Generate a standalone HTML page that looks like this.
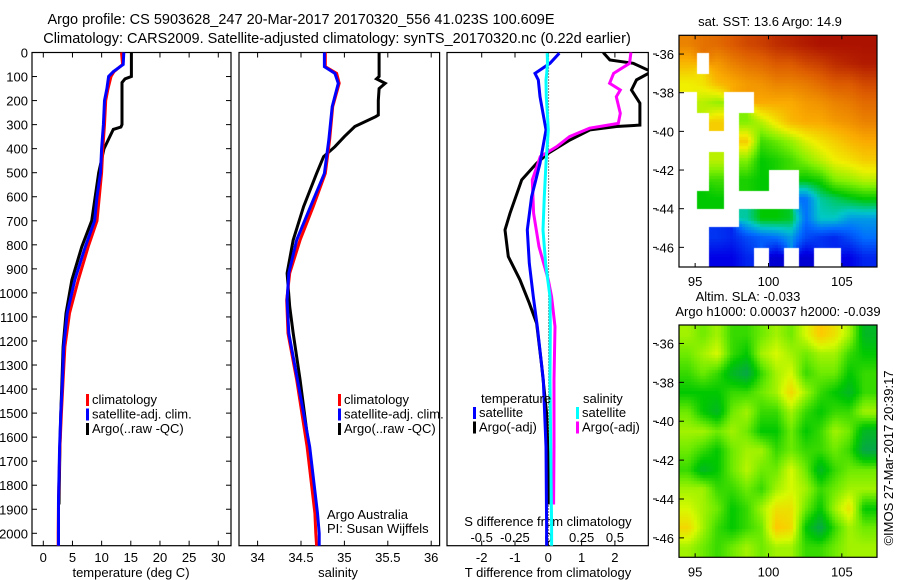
<!DOCTYPE html>
<html><head><meta charset="utf-8">
<style>
body{margin:0;background:#fff;width:900px;height:580px;overflow:hidden;font-family:"Liberation Sans",sans-serif}
#wrap{position:relative;width:900px;height:580px}
svg{position:absolute;left:0;top:0}
canvas{position:absolute}
</style></head><body>
<div id="wrap">
<canvas id="sst" width="198" height="232" style="left:679px;top:35px"></canvas>
<canvas id="sla" width="198" height="232" style="left:679px;top:325px"></canvas>
<svg id="fig" width="900" height="580"></svg>
</div>
<script>
// ---------- data ----------
const tDepth=[0,50,80,100,150,200,300,400,500,600,700,808,946,1085,1224,1362,1501,1640,1862,2000,2052];
const tClim=[13.4,13.6,12.1,11.6,11.1,10.7,10.5,10.2,10.0,9.6,9.2,7.7,6.0,4.5,3.7,3.4,3.1,2.85,2.6,2.55,2.55];
const tSat=[13.8,13.7,12.0,11.2,10.9,10.5,10.3,10.0,9.8,9.2,8.8,7.2,5.4,4.1,3.5,3.3,3.0,2.8,2.6,2.6,2.6];
const argoDepth=[0,100,110,125,300,310,320,350,400,500,600,700,808,946,1085,1224,1362,1501,1640,1880];
const tArgo=[15.1,15.1,14.0,13.5,13.5,13.3,12.0,11.4,10.4,9.5,8.9,8.3,6.6,4.9,3.9,3.4,3.2,3.0,2.85,2.7];
const sDepth=[0,59,87,128,225,364,503,641,780,918,1030,1168,1362,1640,1917,2000,2052];
const sClim=[34.78,34.78,34.91,34.94,34.865,34.83,34.78,34.64,34.49,34.37,34.335,34.35,34.45,34.57,34.66,34.67,34.68];
const sSat=[34.77,34.77,34.89,34.93,34.86,34.82,34.77,34.61,34.45,34.36,34.34,34.36,34.46,34.60,34.69,34.71,34.71];
const sArgoDepth=[0,100,110,128,150,200,260,267,308,350,392,433,503,641,780,918,1057,1168,1362,1640,1880];
const sArgo=[35.40,35.40,35.37,35.47,35.40,35.39,35.39,35.36,35.12,35.0,34.89,34.76,34.68,34.53,34.41,34.34,34.37,34.41,34.49,34.59,34.67];
const dDepth=[3,45,87,114,184,322,461,600,738,877,1016,1140,1362,1640,1972,2052];
const dTsat=[0.33,0.05,-0.4,-0.3,-0.25,-0.07,-0.25,-0.5,-0.63,-0.57,-0.45,-0.33,-0.15,-0.07,-0.05,-0.05];
const dSsat=[-0.008,-0.006,-0.012,-0.017,-0.015,0,-0.017,-0.03,-0.04,-0.02,0.013,0.015,0.013,0.018,0.025,0.025];
const dArgoDepth=[0,31,45,80,114,156,211,267,302,308,322,364,419,461,530,669,738,849,946,1043,1126,1300,1500,1700,1880];
const dTargo=[1.65,1.85,2.55,3.1,2.65,2.5,2.75,2.75,2.75,2.05,1.25,0.65,0,-0.35,-0.8,-1.15,-1.3,-1.2,-0.85,-0.57,-0.35,-0.2,-0.05,0,0];
const dSargoDepth=[0,45,87,128,156,184,253,295,315,350,392,433,530,669,808,946,1016,1140,1362,1640,1880];
const dSargo=[0.62,0.61,0.49,0.46,0.54,0.51,0.54,0.525,0.31,0.16,0.063,-0.06,-0.12,-0.11,-0.07,0,0.025,0.05,0.043,0.043,0.04];
const depthTicks=[0,100,200,300,400,500,600,700,800,900,1000,1100,1200,1300,1400,1500,1600,1700,1800,1900,2000];
const tTicks=[0,5,10,15,20,25,30];
const sTicks=[34,34.5,35,35.5,36];
const dTTicks=[-2,-1,0,1,2];
const dSTicks=[-0.5,-0.25,0,0.25,0.5];
const lonTicks=[95,100,105];
const latTicks=[-36,-38,-40,-42,-44,-46];
// SST grid (normalized colour value), rows lat -35.5..-46.5, cols lon 94.5..106.5; null = no data
const sstGrid=[
[.85,.87,.88,.9,.92,.93,.95,.96,.97,.98,.98,.98,.98],
[.78,null,.82,.85,.87,.88,.9,.9,.92,.93,.95,.96,.97],
[.7,.72,.78,.8,.82,.83,.85,.85,.86,.88,.9,.9,.92],
[null,.65,.62,null,null,.8,.8,.8,.82,.83,.85,.86,.88],
[null,null,.75,null,.6,.65,.72,.78,.8,.8,.82,.83,.85],
[null,null,null,null,.75,.55,.58,.62,.68,.72,.75,.78,.8],
[null,null,.65,null,.6,.5,.52,.55,.6,.65,.7,.72,.75],
[null,null,.55,null,.52,.5,null,null,.5,.52,.6,.62,.65],
[null,.5,.5,null,null,null,null,null,.3,.42,.45,.48,.5],
[null,null,null,null,.42,.5,.5,.48,.3,.4,.4,.35,.35],
[null,null,.22,.2,.25,.28,.3,.35,.25,.22,.2,.25,.3],
[null,null,.15,.15,.2,null,.12,null,.12,null,null,.15,.2]];
const slaGrid=[
[.6,.55,.6,.5,.5,.55,.6,.55,.65,.75,.7,.6,.4],
[.55,.6,.65,.5,.45,.6,.65,.6,.55,.6,.6,.5,.45],
[.5,.55,.5,.4,.35,.5,.6,.65,.5,.55,.55,.45,.5],
[.45,.45,.45,.5,.5,.55,.6,.72,.6,.5,.45,.4,.5],
[.55,.45,.4,.55,.6,.5,.5,.6,.5,.45,.5,.5,.6],
[.6,.6,.55,.6,.55,.45,.45,.55,.45,.5,.6,.55,.4],
[.55,.5,.45,.55,.6,.6,.5,.55,.5,.5,.55,.5,.35],
[.5,.4,.45,.55,.62,.55,.55,.65,.55,.4,.5,.55,.55],
[.6,.6,.5,.5,.55,.5,.6,.65,.6,.5,.55,.6,.6],
[.65,.6,.55,.45,.5,.6,.7,.7,.55,.45,.6,.7,.45],
[.72,.6,.5,.45,.5,.55,.75,.72,.45,.35,.5,.6,.55],
[.6,.55,.5,.55,.6,.55,.6,.6,.5,.5,.55,.6,.6]];

// ---------- scales ----------
const NS="http://www.w3.org/2000/svg";
const svg=document.getElementById('fig');
const TOP=52.5,BOT=545.7;
const yD=d=>TOP+d*0.2404;
const xT=t=>43.3+t*5.833;
const xS=s=>257.6+(s-34)*86.8;
const xDT=t=>548.3+t*33.3;
const xDS=s=>548.3+s*133.3;
function el(tag,attrs,parent){const e=document.createElementNS(NS,tag);for(const k in attrs)e.setAttribute(k,attrs[k]);(parent||svg).appendChild(e);return e;}
function txt(x,y,s,anchor,size,parent){const e=el('text',{x:x,y:y,'font-size':size||13,'text-anchor':anchor||'start',fill:'#000','font-family':'Liberation Sans, sans-serif'},parent);e.textContent=s;return e;}
function line(xs,ds,fx,color,name,w){
  const g=el('g',{});
  
  
  const clip=name.indexOf('diff')>=0?'url(#c3)':'';
  el('polyline',{points:xs.map((v,i)=>fx(v).toFixed(1)+','+yD(ds[i]).toFixed(1)).join(' '),fill:'none',stroke:color,'stroke-width':w||3,'clip-path':clip},g);
  return g;
}
const defs=el('defs',{});
const cp=el('clipPath',{id:'c3'},defs);el('rect',{x:447,y:52,width:201,height:494},cp);

const t1=txt(301,24,'Argo profile: CS 5903628_247 20-Mar-2017 20170320_556 41.023S 100.609E','middle',14.5);

const t2=txt(337,43,'Climatology: CARS2009. Satellite-adjusted climatology: synTS_20170320.nc (0.22d earlier)','middle',14.5);


function panel(x0,x1,name){
  const r=el('rect',{x:x0,y:TOP,width:x1-x0,height:BOT-TOP,fill:'none',stroke:'#000','stroke-width':1.2});
  
}
panel(32,231,'temperature-panel');panel(239,439.6,'salinity-panel');panel(447,648.3,'difference-panel');

depthTicks.forEach(d=>{
  const y=yD(d);
  el('line',{x1:32,x2:37,y1:y,y2:y,stroke:'#000'});
  el('line',{x1:226,x2:231,y1:y,y2:y,stroke:'#000'});
  const l=txt(28,y+5,String(d),'end',13);
  
});
function xticks(vals,fx,ylab){
  vals.forEach(v=>{const x=fx(v);
    el('line',{x1:x,x2:x,y1:TOP,y2:TOP+5,stroke:'#000'});
    el('line',{x1:x,x2:x,y1:BOT,y2:BOT-5,stroke:'#000'});
    const l=txt(x,ylab,String(v),'middle',13);
    
  });
}
xticks(tTicks,xT,562);
xticks(sTicks,xS,562);
xticks(dTTicks,xDT,562);
dSTicks.forEach(v=>{const l=txt(xDS(v),542,String(v),'middle',13);});
[['temperature (deg C)',131,577,'x-axis-title-temperature'],['salinity',338,577,'x-axis-title-salinity'],['T difference from climatology',548,577,'x-axis-title-t-diff'],['S difference from climatology',548,526,'x-axis-title-s-diff']].forEach(a=>{const l=txt(a[1],a[2],a[0],'middle',13);});

line(tArgo,argoDepth,xT,'#000','temp-argo-line');
line(tClim,tDepth,xT,'#f00','temp-climatology-line');
line(tSat,tDepth,xT,'#00f','temp-satellite-line');
line(sArgo,sArgoDepth,xS,'#000','sal-argo-line');
line(sClim,sDepth,xS,'#f00','sal-climatology-line');
line(sSat,sDepth,xS,'#00f','sal-satellite-line');
el('line',{x1:548.6,x2:548.6,y1:TOP,y2:BOT,stroke:'#000','stroke-dasharray':'1,2'});
line(dTargo,dArgoDepth,xDT,'#000','t-diff-argo-line');
line(dSargo,dSargoDepth,xDS,'#f0f','s-diff-argo-line');
line(dTsat,dDepth,xDT,'#00f','t-diff-satellite-line');
line(dSsat,dDepth,xDS,'#0ff','s-diff-satellite-line');

function legend(x,y,items,name){
  const g=el('g',{});
  items.forEach((it,i)=>{const yy=y+i*14.5;
    el('rect',{x:x,y:yy-10,width:3,height:12,fill:it[1]},g);
    txt(x+6,yy,it[0],'start',13,g);});
}
legend(86,404,[['climatology','#f00'],['satellite-adj. clim.','#00f'],['Argo(..raw -QC)','#000']],'temperature-legend');
legend(338,404,[['climatology','#f00'],['satellite-adj. clim.','#00f'],['Argo(..raw -QC)','#000']],'salinity-legend');
txt(481,403,'temperature','start',13);
txt(583,403,'salinity','start',13);
legend(473,417,[['satellite','#00f'],['Argo(-adj)','#000']],'t-diff-legend');
legend(576,417,[['satellite','#0ff'],['Argo(-adj)','#f0f']],'s-diff-legend');
const a1=txt(327,519,'Argo Australia','start',13);
const a2=txt(327,533,'PI: Susan Wijffels','start',13);

const yLat1=l=>35.3+(-35.03-l)*19.33;
const yLat2=l=>325+(-35.05-l)*19.44;
const xLon=l=>679+(l-93.9)*14.67;
function mapFrame(y0,h,yLat,name){
  const r=el('rect',{x:679,y:y0,width:198,height:h,fill:'none',stroke:'#000','stroke-width':1.2});
  
  latTicks.forEach(l=>{const y=yLat(l);el('line',{x1:679,x2:684,y1:y,y2:y,stroke:'#000'});el('line',{x1:653,x2:657,y1:y,y2:y,stroke:'#000'});
    const t=txt(674,y+5,String(l),'end',13);});
  lonTicks.forEach(l=>{const x=xLon(l);el('line',{x1:x,x2:x,y1:y0,y2:y0+4,stroke:'#000'});el('line',{x1:x,x2:x,y1:y0+h,y2:y0+h-4,stroke:'#000'});
    const t=txt(x,y0+h+19,String(l),'middle',13);});
}
mapFrame(35.3,231.7,yLat1,'sst-map-frame');
mapFrame(325,232.3,yLat2,'sla-map-frame');
txt(770,26,'sat. SST: 13.6 Argo: 14.9','middle',13);
txt(748,301,'Altim. SLA: -0.033','middle',13);
txt(778,316,'Argo h1000: 0.00037 h2000: -0.039','middle',13);
const im=txt(0,0,'\u00a9IMOS 27-Mar-2017 20:39:17','middle',13);
im.setAttribute('transform','translate(893,458) rotate(-90)');


const sstStops=[[0,[0,0,130]],[.15,[0,0,230]],[.3,[0,110,255]],[.4,[0,200,200]],[.5,[0,200,0]],[.6,[128,240,0]],[.7,[240,240,0]],[.8,[250,170,0]],[.9,[220,90,0]],[1,[160,0,0]]];
const slaStops=[[0,[0,120,140]],[.3,[10,150,110]],[.45,[0,200,0]],[.55,[110,235,0]],[.65,[215,250,0]],[.75,[255,200,0]],[1,[255,120,0]]];
function cmap(stops,v){v=Math.max(0,Math.min(1,v));for(let i=1;i<stops.length;i++){if(v<=stops[i][0]){const a=stops[i-1],b=stops[i],f=(v-a[0])/(b[0]-a[0]);return a[1].map((c,k)=>Math.round(c+(b[1][k]-c)*f));}}return stops[stops.length-1][1];}
function drawMap(id,grid,stops){
  const c=document.getElementById(id).getContext('2d');
  const W=198,H=232,step=3;
  for(let py=0;py<H;py+=step)for(let px=0;px<W;px+=step){
    const lon=93.9+(px+1)/14.67, lat=-35.03-((py+1)/(H/12));
    let gx=lon-94.5, gy=(-35.5-lat);
    gx=Math.max(0,Math.min(12,gx));gy=Math.max(0,Math.min(11,gy));
    const ix=Math.min(11,Math.floor(gx)),iy=Math.min(10,Math.floor(gy)),fx=gx-ix,fy=gy-iy;
    const cx=Math.min(12,Math.max(0,Math.floor(lon-94))),cy=Math.min(11,Math.max(0,Math.floor(-35-lat)));
    if(grid[cy][cx]===null)continue;
    let acc=0,wt=0;
    [[ix,iy,(1-fx)*(1-fy)],[ix+1,iy,fx*(1-fy)],[ix,iy+1,(1-fx)*fy],[ix+1,iy+1,fx*fy]].forEach(q=>{const v=grid[q[1]][q[0]];if(v!==null){acc+=v*q[2];wt+=q[2];}});
    const col=cmap(stops,acc/wt);
    c.fillStyle='rgb('+col.join(',')+')';c.fillRect(px,py,step,step);
  }
}
drawMap('sst',sstGrid,sstStops);
drawMap('sla',slaGrid,slaStops);
</script>
</body></html>
